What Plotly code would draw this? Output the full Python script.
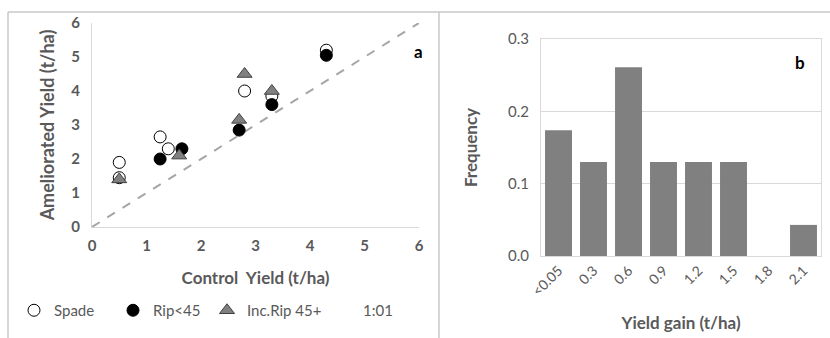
import plotly.graph_objects as go

W, H = 830, 338

# ---- panel a data ----
spade_x = [0.5, 0.5, 1.25, 1.4, 2.8, 3.3, 4.3]
spade_y = [1.9, 1.45, 2.65, 2.3, 4.0, 3.85, 5.2]
rip_x = [1.25, 1.65, 2.7, 3.3, 4.3]
rip_y = [2.0, 2.3, 2.85, 3.6, 5.05]
inc_x = [0.5, 1.6, 2.7, 2.8, 3.3]
inc_y = [1.4, 2.1, 3.15, 4.5, 4.0]
line_x = [0, 6]
line_y = [0, 6]
axis_ticks = [0, 1, 2, 3, 4, 5, 6]

# ---- panel b data ----
gain_cats = ["<0.05", "0.3", "0.6", "0.9", "1.2", "1.5", "1.8", "2.1"]
gain_freq = [0.174, 0.130, 0.261, 0.130, 0.130, 0.130, 0.0, 0.043]
freq_ticks = [0.0, 0.1, 0.2, 0.3]

FONT = "Lato"
TXT = "#595959"
GRID = "#d9d9d9"

def px_x(p):
    return p / W

def px_y(p):
    return 1 - p / H

fig = go.Figure()

fig.add_trace(go.Scatter(x=line_x, y=line_y, mode="lines", name="1:01",
                         line=dict(color="#a6a6a6", width=2, dash="dash"),
                         showlegend=False, xaxis="x", yaxis="y", hoverinfo="skip"))
fig.add_trace(go.Scatter(x=spade_x, y=spade_y, mode="markers", name="Spade",
                         marker=dict(symbol="circle", size=12, color="white",
                                     line=dict(color="black", width=1)),
                         xaxis="x", yaxis="y", legend="legend"))
fig.add_trace(go.Scatter(x=rip_x, y=rip_y, mode="markers", name="Rip<45",
                         marker=dict(symbol="circle", size=12, color="black",
                                     line=dict(color="black", width=1)),
                         xaxis="x", yaxis="y", legend="legend2"))
fig.add_trace(go.Scatter(x=inc_x, y=inc_y, mode="markers", name="Inc.Rip 45+",
                         marker=dict(symbol="triangle-up", size=13, color="#808080",
                                     line=dict(color="#404040", width=1)),
                         xaxis="x", yaxis="y", legend="legend3"))
# legend-only entry for the 1:01 line (no visible symbol, as in reference)
fig.add_trace(go.Scatter(x=[None], y=[None], mode="markers", name="1:01",
                         marker=dict(color="rgba(0,0,0,0)", size=1),
                         xaxis="x", yaxis="y", legend="legend4"))

fig.add_trace(go.Bar(x=gain_cats, y=gain_freq, marker=dict(color="#808080",
                     line=dict(width=0)),
                     showlegend=False, xaxis="x2", yaxis="y2"))

def leg(xpix):
    return dict(orientation="h", x=px_x(xpix), y=px_y(294), xanchor="left", yanchor="top",
                font=dict(size=15, color=TXT), itemwidth=30,
                bgcolor="rgba(0,0,0,0)")

fig.update_layout(
    template="none",
    width=W, height=H, autosize=False,
    margin=dict(l=0, r=0, t=0, b=0, pad=0),
    paper_bgcolor="white", plot_bgcolor="white",
    font=dict(family=FONT, color=TXT, size=13),
    bargap=0.23,
    xaxis=dict(domain=[px_x(92), px_x(419)], range=[0, 6], tickvals=axis_ticks,
               showgrid=False, zeroline=False, showline=True, linecolor=GRID,
               linewidth=1, ticks="", automargin=False, ticklabelstandoff=5,
               tickfont=dict(size=15, color=TXT, weight="bold"),
               title=dict(text="Control  Yield (t/ha)", standoff=19,
                          font=dict(size=17, color=TXT, weight="bold")),
               anchor="y", fixedrange=True),
    yaxis=dict(domain=[px_y(227), px_y(23)], range=[0, 6], tickvals=axis_ticks,
               showgrid=False, zeroline=False, showline=True, linecolor=GRID,
               linewidth=1, ticks="", automargin=False, ticklabelstandoff=8,
               tickfont=dict(size=15, color=TXT, weight="bold"),
               title=dict(text="Ameliorated Yield (t/ha)", standoff=11,
                          font=dict(size=18, color=TXT, weight="bold")),
               anchor="x", fixedrange=True),
    xaxis2=dict(domain=[px_x(541), px_x(821)], type="category", showgrid=False,
                zeroline=False, showline=True, linecolor=GRID, mirror=True, ticks="",
                tickangle=-45, automargin=False, tickfont=dict(size=14, color=TXT),
                title=dict(text="Yield gain (t/ha)", standoff=18,
                           font=dict(size=17, color=TXT, weight="bold")),
                anchor="y2", fixedrange=True),
    yaxis2=dict(domain=[px_y(256), px_y(39)], range=[0, 0.3], tickvals=freq_ticks,
                tickformat=".1f", showgrid=True, gridcolor=GRID, zeroline=False,
                showline=True, linecolor=GRID, mirror=True, ticks="",
                automargin=False, ticklabelstandoff=8, tickfont=dict(size=15, color=TXT),
                title=dict(text="Frequency", standoff=26,
                           font=dict(size=17, color=TXT, weight="bold")),
                anchor="x2", fixedrange=True),
    legend=leg(14),
    legend2=leg(113),
    legend3=leg(207),
    legend4=leg(323),
)

# panel borders
fig.add_shape(type="line", xref="paper", yref="paper", x0=px_x(8), x1=1, y0=px_y(12), y1=px_y(12),
              line=dict(color="#c8c8c8", width=1.5))
fig.add_shape(type="line", xref="paper", yref="paper", x0=px_x(8), x1=px_x(8), y0=px_y(12), y1=0,
              line=dict(color="#c8c8c8", width=1.5))
fig.add_shape(type="line", xref="paper", yref="paper", x0=px_x(439), x1=px_x(439), y0=px_y(12), y1=0,
              line=dict(color="#c8c8c8", width=1.5))

# panel letters
fig.add_annotation(text="<b>a</b>", xref="paper", yref="paper", x=px_x(418), y=px_y(51),
                   xanchor="center", yanchor="middle",
                   showarrow=False, font=dict(size=17, color="black", family=FONT))
fig.add_annotation(text="<b>b</b>", xref="paper", yref="paper", x=px_x(800), y=px_y(63),
                   xanchor="center", yanchor="middle",
                   showarrow=False, font=dict(size=17, color="black", family=FONT))

fig.write_html("out.html", config={"displayModeBar": False},
               post_script="document.body.style.margin='0';")
